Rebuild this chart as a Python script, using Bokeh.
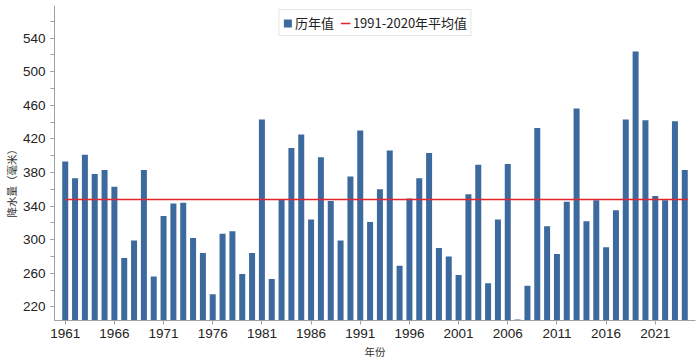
from bokeh.plotting import figure
from bokeh.models import FixedTicker, Range1d, ColumnDataSource, Legend, LegendItem, Title
from bokeh.embed import file_html
from bokeh.resources import INLINE

years = list(range(1961, 2025))
precip = [393, 373, 401, 378, 383, 363, 278, 299, 383, 256,
          328, 343, 344, 302, 284, 235, 307, 310, 259, 284,
          443, 253, 348, 409, 425, 324, 398, 346, 299, 375,
          430, 321, 360, 406, 269, 349, 373, 403, 290, 280,
          258, 354, 389, 248, 324, 390, 205, 245, 433, 316,
          283, 345, 456, 322, 347, 291, 335, 443, 524, 442,
          352, 347, 441, 383]
normal_1991_2020 = 347.7
x_ticks = list(range(1961, 2025, 5))
y_ticks = list(range(220, 561, 40))
y_minor = list(range(200, 581, 20))

series_name = "历年值"
normal_name = "1991-2020年平均值"
x_title = "年份"
y_title = "降水量（毫米）"

BAR_W = 0.61
X0, X1 = 1959.91, 2025.09
Y0, Y1 = 203.7, 578.7
src = ColumnDataSource(dict(year=years, value=precip))

p = figure(width=700, height=362, output_backend="svg", toolbar_location=None,
           x_range=Range1d(X0, X1), y_range=Range1d(Y0, Y1),
           min_border_left=53, min_border_right=5, min_border_top=5, min_border_bottom=42)
p.outline_line_color = None
p.xgrid.visible = False
p.ygrid.visible = False
p.background_fill_color = "white"
p.border_fill_color = "white"

bars = p.vbar(x="year", top="value", bottom=0, width=BAR_W, source=src,
              fill_color="#3c6a9f", line_color=None)
normal = p.line(x=[years[0], years[-1] + BAR_W / 2],
                y=[normal_1991_2020, normal_1991_2020],
                line_color="#e3262b", line_width=1.6)

font = "Liberation Sans"
label_font = "Noto Sans CJK SC"
p.xaxis.ticker = FixedTicker(ticks=x_ticks)
p.yaxis.ticker = FixedTicker(ticks=y_ticks, minor_ticks=y_minor)
for ax in (p.xaxis, p.yaxis):
    ax.axis_line_color = "#a0a0a0"
    ax.major_tick_line_color = "#a0a0a0"
    ax.minor_tick_line_color = "#a0a0a0"
    ax.major_tick_in = 0
    ax.major_tick_out = 4
    ax.minor_tick_in = 0
    ax.minor_tick_out = 4
    ax.major_label_text_font = font
    ax.major_label_text_font_size = "13.5px"
    ax.major_label_text_color = "#222222"
p.xaxis.minor_tick_out = 0
p.xaxis.major_label_standoff = 4
p.yaxis.major_label_standoff = 5

p.xaxis.axis_label = x_title
p.xaxis.axis_label_text_font = label_font
p.xaxis.axis_label_text_font_style = "normal"
p.xaxis.axis_label_text_font_size = "10.5px"
p.xaxis.axis_label_text_color = "#333333"
p.xaxis.axis_label_standoff = 3

ytitle = Title(text=y_title, align="left", offset=103, standoff=2,
               text_font=label_font, text_font_style="normal",
               text_font_size="10.5px", text_color="#333333")
p.add_layout(ytitle, "left")

legend = Legend(items=[LegendItem(label=series_name, renderers=[bars]),
                       LegendItem(label=normal_name, renderers=[normal])],
                orientation="horizontal", location="top_center")
legend.margin = 4
legend.padding = 3
legend.spacing = 6
legend.glyph_width = 10
legend.glyph_height = 10
legend.label_standoff = 3
legend.label_text_font = label_font
legend.label_text_font_size = "13px"
legend.label_text_color = "#222222"
legend.border_line_color = "#cccccc"
legend.background_fill_alpha = 1
p.add_layout(legend, "center")

open("out.html", "w").write(file_html(p, INLINE))
